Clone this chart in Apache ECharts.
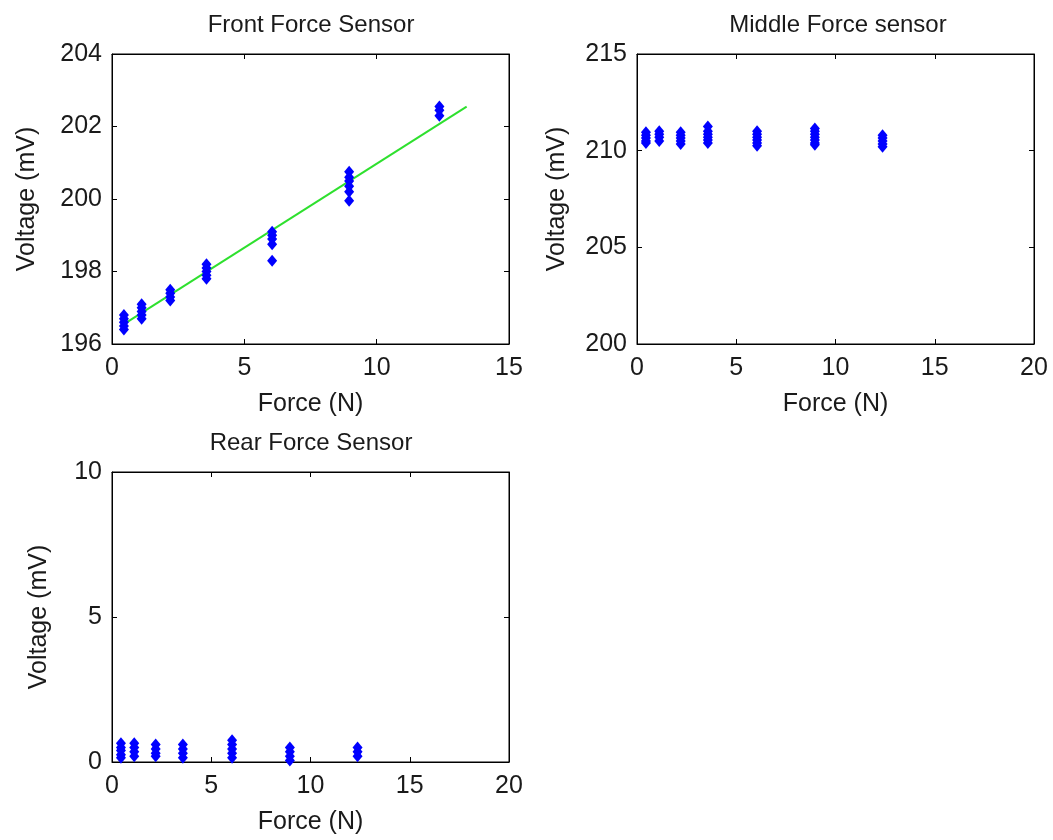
<!DOCTYPE html>
<html>
<head>
<meta charset="utf-8">
<script src="https://cdn.jsdelivr.net/npm/echarts@6/dist/echarts.min.js"></script>
<style>
html,body{margin:0;padding:0;background:#fff;}
#chart{width:1053px;height:840px;}
</style>
</head>
<body>
<div id="chart"></div>
<script>
// ---- data ----
var force = [0.45, 1.12, 2.2, 3.57, 6.05, 8.96, 12.37];

var frontV = [
  [196.8, 196.7, 196.6, 196.5, 196.4],
  [197.1, 197.0, 196.9, 196.8, 196.7],
  [197.5, 197.4, 197.3, 197.2],
  [198.2, 198.1, 198.0, 197.9, 197.8],
  [199.1, 199.0, 198.9, 198.75, 198.3],
  [200.75, 200.6, 200.5, 200.35, 200.2, 199.95],
  [202.55, 202.45, 202.3]
];
var middleV = [
  [210.95, 210.8, 210.65, 210.5, 210.4],
  [211.0, 210.85, 210.7, 210.5],
  [210.95, 210.8, 210.65, 210.5, 210.35],
  [211.25, 211.0, 210.85, 210.7, 210.55, 210.4],
  [211.0, 210.85, 210.7, 210.55, 210.4, 210.25],
  [211.15, 211.0, 210.85, 210.7, 210.55, 210.4, 210.3],
  [210.8, 210.65, 210.5, 210.35, 210.2]
];
var rearV = [
  [0.65, 0.5, 0.4, 0.25, 0.15],
  [0.65, 0.5, 0.35, 0.2],
  [0.6, 0.45, 0.3, 0.2],
  [0.6, 0.45, 0.3, 0.15],
  [0.75, 0.6, 0.45, 0.3, 0.15],
  [0.5, 0.35, 0.2, 0.05],
  [0.5, 0.35, 0.2]
];
var fitX = [0.45, 13.4];
var fitY = [196.55, 202.55];

var titles = ['Front Force Sensor', 'Middle Force sensor', 'Rear Force Sensor'];
var xName = 'Force (N)';
var yName = 'Voltage (mV)';

// ---- build ----
function pairs(vals) {
  var out = [];
  for (var i = 0; i < force.length; i++) {
    for (var j = 0; j < vals[i].length; j++) out.push([force[i], vals[i][j]]);
  }
  return out;
}
var fitData = fitX.map(function (x, i) { return [x, fitY[i]]; });

var FONT = "'Liberation Sans', Arial, sans-serif";
var TXT = '#1a1a1a';

var grids = [
  {left: 112, top: 54, width: 397, height: 290},
  {left: 637, top: 54, width: 397, height: 290},
  {left: 112, top: 472, width: 397, height: 290}
];
var xr = [[0, 15, 5], [0, 20, 5], [0, 20, 5]];
var yr = [[196, 204, 2], [200, 215, 5], [0, 10, 5]];
var yGap = [72, 67, 60];

var xAxes = [], yAxes = [];
grids.forEach(function (g, i) {
  g.show = true; g.borderColor = '#000'; g.borderWidth = 1; g.backgroundColor = '#fff';
  xAxes.push({
    type: 'value', gridIndex: i, min: xr[i][0], max: xr[i][1], interval: xr[i][2],
    position: 'bottom', name: xName, nameLocation: 'middle', nameGap: 48,
    nameTextStyle: {fontFamily: FONT, fontSize: 25, color: TXT},
    axisLine: {show: true, onZero: false, lineStyle: {color: '#000', width: 1}},
    axisTick: {show: true, inside: true, length: 5, lineStyle: {color: '#000'}},
    axisLabel: {fontFamily: FONT, fontSize: 25, color: TXT, margin: 12},
    splitLine: {show: false}
  });
  xAxes.push({
    type: 'value', gridIndex: i, min: xr[i][0], max: xr[i][1], interval: xr[i][2],
    position: 'top',
    axisLine: {show: true, onZero: false, lineStyle: {color: '#000', width: 1}},
    axisTick: {show: true, inside: true, length: 5, lineStyle: {color: '#000'}},
    axisLabel: {show: false}, splitLine: {show: false}
  });
  yAxes.push({
    type: 'value', gridIndex: i, min: yr[i][0], max: yr[i][1], interval: yr[i][2],
    position: 'left', name: yName, nameLocation: 'middle', nameGap: yGap[i],
    nameTextStyle: {fontFamily: FONT, fontSize: 25, color: TXT},
    axisLine: {show: true, onZero: false, lineStyle: {color: '#000', width: 1}},
    axisTick: {show: true, inside: true, length: 5, lineStyle: {color: '#000'}},
    axisLabel: {fontFamily: FONT, fontSize: 25, color: TXT, margin: 10},
    splitLine: {show: false}
  });
  yAxes.push({
    type: 'value', gridIndex: i, min: yr[i][0], max: yr[i][1], interval: yr[i][2],
    position: 'right',
    axisLine: {show: true, onZero: false, lineStyle: {color: '#000', width: 1}},
    axisTick: {show: true, inside: true, length: 5, lineStyle: {color: '#000'}},
    axisLabel: {show: false}, splitLine: {show: false}
  });
});

function scatter(idx, vals) {
  return {
    type: 'scatter', xAxisIndex: idx * 2, yAxisIndex: idx * 2,
    data: pairs(vals), symbol: 'diamond', symbolSize: [10, 12],
    itemStyle: {color: '#0000ff', opacity: 1}, silent: true, animation: false
  };
}

var option = {
  backgroundColor: '#fff',
  animation: false,
  title: [
    {text: titles[0], left: 306, top: 8, textAlign: 'center',
     textStyle: {fontFamily: FONT, fontSize: 24, fontWeight: 'normal', color: TXT}},
    {text: titles[1], left: 833, top: 8, textAlign: 'center',
     textStyle: {fontFamily: FONT, fontSize: 24, fontWeight: 'normal', color: TXT}},
    {text: titles[2], left: 306, top: 426, textAlign: 'center',
     textStyle: {fontFamily: FONT, fontSize: 24, fontWeight: 'normal', color: TXT}}
  ],
  grid: grids,
  xAxis: xAxes,
  yAxis: yAxes,
  series: [
    {
      type: 'line', xAxisIndex: 0, yAxisIndex: 0, data: fitData,
      symbol: 'none', lineStyle: {color: '#2ee02e', width: 2}, z: 1, silent: true
    },
    scatter(0, frontV),
    scatter(1, middleV),
    scatter(2, rearV)
  ]
};

var chart = echarts.init(document.getElementById('chart'), null, {renderer: 'canvas'});
chart.setOption(option);
</script>
</body>
</html>
